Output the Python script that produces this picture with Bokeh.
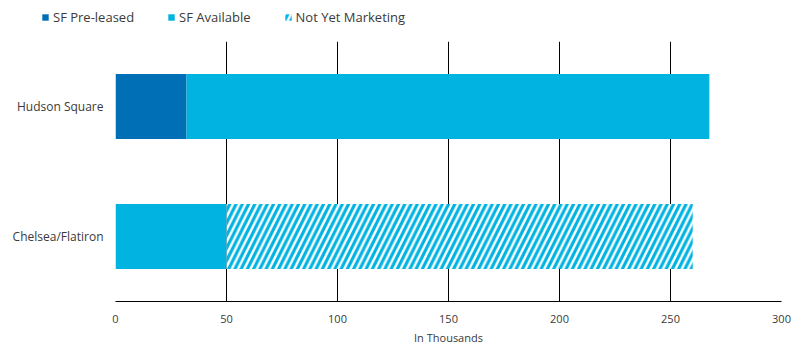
from bokeh.plotting import figure
from bokeh.layouts import column
from bokeh.models import ColumnDataSource, FixedTicker, Legend, LegendItem, Range1d, FactorRange
from bokeh.embed import file_html
from bokeh.resources import INLINE

categories = ["Hudson Square", "Chelsea/Flatiron"]
sf_pre_leased = [32, 0]
sf_available = [235.5, 50]
not_yet_marketing = [0, 210]
series_labels = ["SF Pre-leased", "SF Available", "Not Yet Marketing"]
x_ticks = [0, 50, 100, 150, 200, 250, 300]

c_pre = "#006FB6"
c_avail = "#00B3E1"
font = "Open Sans"
text_color = "#3a3a3a"

start1 = [0] * len(categories)
end1 = [a + b for a, b in zip(start1, sf_pre_leased)]
end2 = [a + b for a, b in zip(end1, sf_available)]
end3 = [a + b for a, b in zip(end2, not_yet_marketing)]

src = ColumnDataSource(dict(cat=categories, s1=start1, e1=end1, e2=end2, e3=end3))

styles = [dict(fill_color=c_pre, line_color=None),
          dict(fill_color=c_avail, line_color=None),
          dict(fill_color="white", line_color=None, hatch_pattern="/",
               hatch_color=c_avail, hatch_scale=12.5, hatch_weight=3.2)]

p = figure(width=798, height=317, y_range=FactorRange(*categories[::-1], range_padding=0),
           x_range=Range1d(0, 300), output_backend="svg", toolbar_location=None,
           min_border_left=115, min_border_right=17, min_border_top=11, min_border_bottom=45)
p.outline_line_color = None

p.hbar(y="cat", left="s1", right="e1", height=0.5, source=src, **styles[0])
p.hbar(y="cat", left="e1", right="e2", height=0.5, source=src, **styles[1])
p.hbar(y="cat", left="e2", right="e3", height=0.5, source=src, **styles[2])

p.xaxis.ticker = FixedTicker(ticks=x_ticks)
p.xaxis.major_tick_line_color = None
p.xaxis.minor_tick_line_color = None
p.xaxis.major_tick_out = 0
p.xaxis.major_tick_in = 0
p.xaxis.axis_line_color = "black"
p.xaxis.major_label_standoff = 13
p.xaxis.major_label_text_font = font
p.xaxis.major_label_text_font_size = "11px"
p.xaxis.major_label_text_color = text_color
p.xaxis.axis_label = "In Thousands"
p.xaxis.axis_label_text_font = font
p.xaxis.axis_label_text_font_size = "11px"
p.xaxis.axis_label_text_font_style = "normal"
p.xaxis.axis_label_text_color = text_color
p.xaxis.axis_label_standoff = 4

p.yaxis.axis_line_color = None
p.yaxis.major_tick_line_color = None
p.yaxis.major_tick_out = 0
p.yaxis.major_label_standoff = 12
p.yaxis.major_label_text_font = font
p.yaxis.major_label_text_font_size = "12px"
p.yaxis.major_label_text_color = text_color

p.xgrid.grid_line_color = "black"
p.xgrid.grid_line_width = 1
p.ygrid.grid_line_color = None

# legend strip above the chart (its own frame spans the whole width)
lf = figure(width=798, height=30, x_range=Range1d(0, 1), y_range=Range1d(0, 1),
            output_backend="svg", toolbar_location=None,
            x_axis_location=None, y_axis_location=None,
            min_border_left=0, min_border_right=0, min_border_top=0, min_border_bottom=0)
lf.grid.visible = False
lf.outline_line_color = None
offscreen = ColumnDataSource(dict(y=[5], left=[5], right=[6]))
items = []
for lbl, st in zip(series_labels, styles):
    r = lf.hbar(y="y", left="left", right="right", height=1, source=offscreen, **st)
    items.append(LegendItem(label=lbl, renderers=[r]))

legend = Legend(items=items, orientation="horizontal", location=(41, 4),
                glyph_width=8, glyph_height=8, label_standoff=4, spacing=33,
                padding=0, margin=0, border_line_color=None, background_fill_alpha=0,
                label_text_font=font, label_text_font_size="13px",
                label_text_color=text_color)
lf.add_layout(legend, "center")

layout = column(column(lf), p, spacing=0)
open("out.html", "w").write(file_html(layout, INLINE))
